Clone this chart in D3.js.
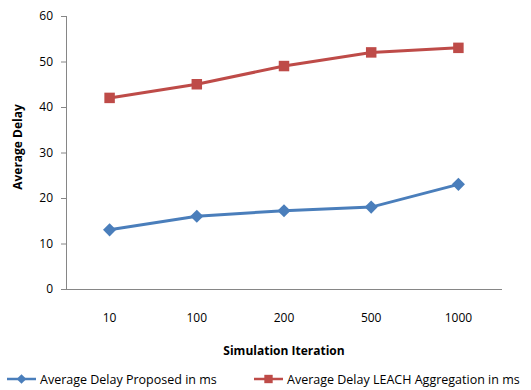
<!DOCTYPE html>
<html>
<meta charset="utf-8">
<style>
  body { margin: 0; padding: 0; background: #fff; }
  svg { display: block; }
  text { font-family: "Open Sans", "Noto Sans", sans-serif; fill: #000; }
  .axis path, .axis line { stroke: #868686; }
  .axis text { font-size: 12px; }
</style>
<body>
<svg id="chart" width="531" height="390"></svg>
<script src="https://cdnjs.cloudflare.com/ajax/libs/d3/7.8.5/d3.min.js"></script>
<script>
var categories = ["10", "100", "200", "500", "1000"];
var proposed = [13, 16, 17.2, 18, 23];
var leach = [42, 45, 49, 52, 53];
var yTicks = [0, 10, 20, 30, 40, 50, 60];
var seriesNames = ["Average Delay Proposed in ms", "Average Delay LEACH Aggregation in ms"];
var colors = ["#4A7EBB", "#BE4B48"];

var svg = d3.select("#chart");
var plot = {left: 66, right: 502, top: 16, bottom: 289};

var x = d3.scaleBand().domain(categories).range([plot.left, plot.right]);
var y = d3.scaleLinear().domain([0, 60]).range([plot.bottom, plot.top]);

// y axis
var yAxis = svg.append("g")
    .attr("class", "axis")
    .attr("transform", "translate(" + plot.left + ",0)")
    .call(d3.axisLeft(y).tickValues(yTicks).tickSize(5).tickSizeOuter(0).tickPadding(8));
yAxis.select(".domain").attr("d", "M0.5," + plot.top + "V" + plot.bottom);

// x axis (line only, labels placed lower)
svg.append("line")
    .attr("x1", plot.left).attr("x2", plot.right)
    .attr("y1", plot.bottom + 0.5).attr("y2", plot.bottom + 0.5)
    .attr("stroke", "#868686");

svg.append("g").selectAll("text")
    .data(categories)
  .enter().append("text")
    .attr("x", function(d) { return x(d) + x.bandwidth() / 2; })
    .attr("y", 322)
    .attr("text-anchor", "middle")
    .style("font-size", "12px")
    .text(function(d) { return d; });

// titles
svg.append("text")
    .attr("x", x.range()[0] + (plot.right - plot.left) / 2)
    .attr("y", 355)
    .attr("text-anchor", "middle")
    .style("font-size", "12px")
    .style("font-weight", "bold")
    .text("Simulation Iteration");

svg.append("text")
    .attr("transform", "translate(22,147) rotate(-90)")
    .attr("text-anchor", "middle")
    .style("font-size", "12px")
    .style("font-weight", "bold")
    .text("Average Delay");

var line = d3.line()
    .x(function(d, i) { return x(categories[i]) + x.bandwidth() / 2; })
    .y(function(d) { return y(d); });

var allSeries = [proposed, leach];

allSeries.forEach(function(vals, s) {
  svg.append("path")
      .attr("d", line(vals))
      .attr("fill", "none")
      .attr("stroke", colors[s])
      .attr("stroke-width", 3);

  svg.append("g").selectAll("path")
      .data(vals)
    .enter().append("path")
      .attr("transform", function(d, i) {
        return "translate(" + (x(categories[i]) + x.bandwidth() / 2) + "," + y(d) + ")";
      })
      .attr("d", s == 0
        ? d3.symbol().type(d3.symbolDiamond2).size(110)()
        : d3.symbol().type(d3.symbolSquare).size(110)())
      .attr("fill", colors[s]);
});

// legend
var legendPos = [7, 254];
seriesNames.forEach(function(name, s) {
  var lg = svg.append("g").attr("transform", "translate(" + legendPos[s] + ",379)");
  lg.append("line")
      .attr("x1", 0).attr("x2", 29)
      .attr("y1", 0).attr("y2", 0)
      .attr("stroke", colors[s]).attr("stroke-width", 2.5);
  lg.append("path")
      .attr("transform", "translate(14.5,0)")
      .attr("d", s == 0
        ? d3.symbol().type(d3.symbolDiamond2).size(60)()
        : d3.symbol().type(d3.symbolSquare).size(70)())
      .attr("fill", colors[s]);
  lg.append("text")
      .attr("x", 33)
      .attr("y", 4.5)
      .style("font-size", "12.5px")
      .text(name);
});
</script>
</body>
</html>
